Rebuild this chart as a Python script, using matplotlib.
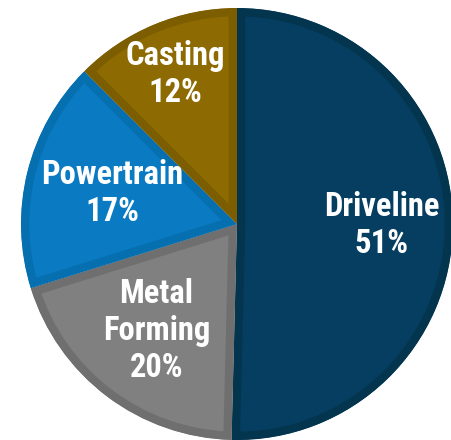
import matplotlib
matplotlib.use("Agg")
import matplotlib.pyplot as plt
import numpy as np


segments = ["Driveline", "Metal\nForming", "Powertrain", "Casting"]
shares = [50.4, 19.8, 17.3, 12.5]
share_labels = ["51%", "20%", "17%", "12%"]

_FILL = ["#053E60", "#808080", "#0A7BC2", "#8D6B02"]
_EDGE = ["#03354F", "#6F6F6F", "#066FB0", "#7C5D00"]
_LABEL_RADIUS = [0.67, 0.62, 0.595, 0.75]

_FONT = ["Roboto Condensed", "Liberation Sans", "DejaVu Sans"]


def _draw_pie(axes):
    wedges, _ = axes.pie(shares,
                         colors=_FILL,
                         startangle=90,
                         counterclock=False,
                         radius=1.0,
                         wedgeprops=dict(linewidth=0))
    for wedge, edge in zip(wedges, _EDGE):
        # inner bevel: a thick edge clipped to the wedge itself
        wedge.set_edgecolor(edge)
        wedge.set_linewidth(12.)
        wedge.set_clip_on(True)
        wedge.set_clip_path(wedge)
    return wedges


def _label_wedges(axes, wedges):
    for wedge, name, pct, dist in zip(wedges, segments,
                                      share_labels, _LABEL_RADIUS):
        mid = np.deg2rad((wedge.theta1 + wedge.theta2) / 2.)
        axes.text(dist * np.cos(mid),
                  dist * np.sin(mid),
                  f"{name}\n{pct}",
                  ha="center",
                  va="center",
                  color="white",
                  fontsize=23.5,
                  fontweight="bold",
                  family=_FONT,
                  linespacing=1.2)


fig = plt.figure(figsize=(4.51, 4.40), dpi=100)
ax = fig.add_axes([0., 0., 1., 1.])
pie_wedges = _draw_pie(ax)
_label_wedges(ax, pie_wedges)
ax.set_aspect("auto")
ax.set_xlim(-237. / 216., 214. / 216.)
ax.set_ylim(-216. / 216., 224. / 216.)
ax.axis("off")
fig.savefig("out.png", dpi=100)
